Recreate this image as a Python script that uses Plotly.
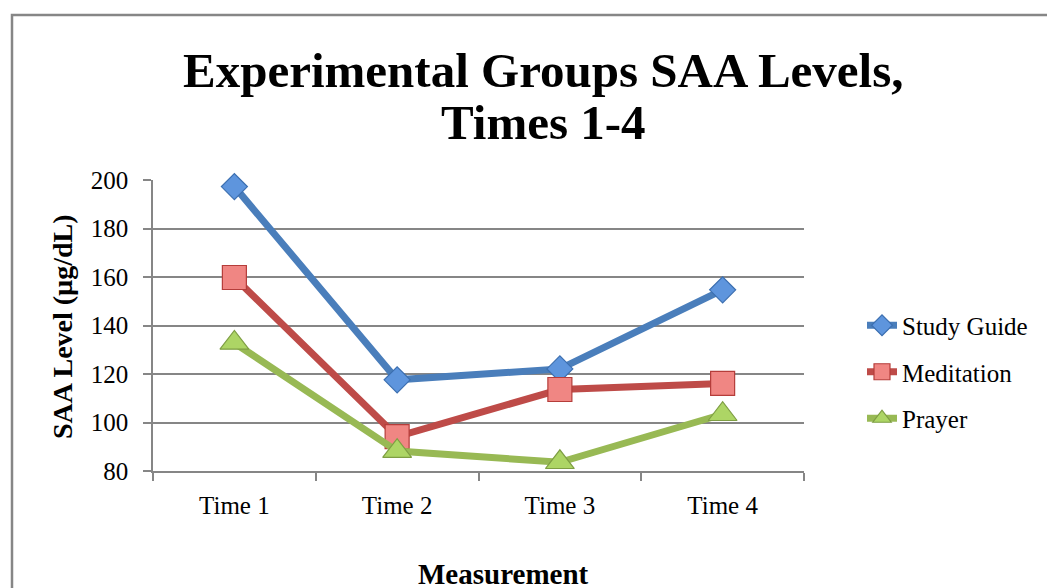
"""
Experimental groups SAA levels line chart (Excel style)
"""
import plotly.graph_objects as go

# data
times = ["Time 1", "Time 2", "Time 3", "Time 4"]
study_guide = [197.3, 117.6, 122.1, 154.7]
meditation = [159.8, 94.2, 113.6, 116.1]
prayer = [132.8, 88.2, 83.6, 103.4]

y_ticks = [80, 100, 120, 140, 160, 180, 200]

SERIF = "Liberation Serif, Times New Roman, serif"
GRID = "#868686"

# the page puts the figure 8px in from the corner (body margin)
OFF = 8
# plot area in screen pixels (window is 1055 x 588)
L, R, T, B = 153 - OFF, 804 - OFF, 180 - OFF, 471 - OFF
W, H = 1055, 588
pw, ph = R - L, B - T


def px_x(x):
    # screen pixel -> paper x
    return (x - OFF - L) / pw


def px_y(y):
    # screen pixel -> paper y
    return (B - (y - OFF)) / ph


series = [
    ("Study Guide", study_guide, "#4A7EBB", "diamond", 20, "#5E95DD", "#3C6FB0"),
    ("Meditation", meditation, "#BE4B48", "square", 24, "#F08683", "#B53D3A"),
    ("Prayer", prayer, "#98B954", "triangle-up", 25, "#ADD565", "#7E9E43"),
]

fig = go.Figure()
for name, vals, line_col, symbol, size, fill, edge in series:
    fig.add_trace(go.Scatter(
        x=times, y=vals, name=name, legendgroup=name,
        mode="lines+markers",
        line=dict(color=line_col, width=7),
        marker=dict(symbol=symbol, size=size, color=fill,
                    line=dict(color=edge, width=1.2)),
        cliponaxis=False,
    ))

fig.update_layout(
    width=W, height=H, autosize=False,
    margin=dict(l=L, r=W - R, t=T, b=H - B, pad=0),
    paper_bgcolor="white", plot_bgcolor="white",
    font=dict(family=SERIF, size=25, color="black"),
    showlegend=True,
    legend=dict(
        x=px_x(862), y=px_y(372), xanchor="left", yanchor="middle",
        traceorder="grouped", tracegroupgap=11,
        font=dict(family=SERIF, size=25, color="black"),
        bgcolor="rgba(0,0,0,0)",
    ),
)

fig.update_xaxes(
    type="category", range=[-0.5, 3.5],
    showline=True, linecolor=GRID, linewidth=1.5,
    showgrid=False, ticks="outside", tickson="boundaries",
    ticklen=8, tickcolor=GRID, tickwidth=1.5,
    ticklabelstandoff=11,
    tickfont=dict(family=SERIF, size=25),
)
fig.update_yaxes(
    range=[80, 200], tickvals=y_ticks,
    showline=True, linecolor=GRID, linewidth=1.5,
    showgrid=True, gridcolor=GRID, gridwidth=1.5,
    zeroline=False, ticks="outside", ticklen=8,
    tickcolor=GRID, tickwidth=1.5, ticklabelstandoff=10,
    tickfont=dict(family=SERIF, size=25),
)

# title, two lines
fig.add_annotation(text="<b>Experimental Groups SAA Levels,</b>",
                   x=px_x(543), y=px_y(70), xref="paper", yref="paper",
                   xanchor="center", yanchor="middle",
                   showarrow=False, font=dict(family=SERIF, size=49))
fig.add_annotation(text="<b>Times 1-4</b>",
                   x=px_x(543), y=px_y(122), xref="paper", yref="paper",
                   xanchor="center", yanchor="middle",
                   showarrow=False, font=dict(family=SERIF, size=49))

# axis titles
fig.add_annotation(text="<b>SAA Level (µg/dL)</b>", textangle=-90,
                   x=px_x(62), y=px_y(327), xref="paper", yref="paper",
                   xanchor="center", yanchor="middle",
                   showarrow=False, font=dict(family=SERIF, size=28))
fig.add_annotation(text="<b>Measurement</b>",
                   x=px_x(503), y=px_y(574), xref="paper", yref="paper",
                   xanchor="center", yanchor="middle",
                   showarrow=False, font=dict(family=SERIF, size=29))

# chart area border (only top and left visible in the crop)
fig.add_shape(type="rect", xref="paper", yref="paper",
              x0=px_x(12), x1=px_x(1200), y0=px_y(700), y1=px_y(15),
              line=dict(color=GRID, width=2.5), layer="below")

fig.write_html("out.html")
